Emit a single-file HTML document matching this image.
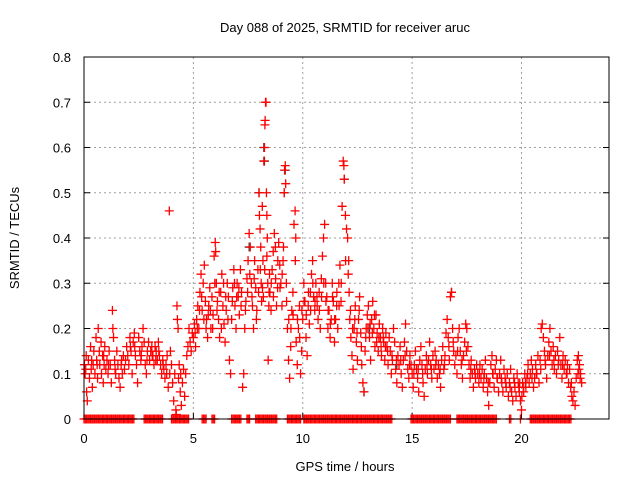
<!DOCTYPE html>
<html><head><meta charset="utf-8">
<style>
body{margin:0;background:#fff;}
svg{display:block;font-family:"Liberation Sans",sans-serif;}
</style></head>
<body>
<svg id="chart" width="640" height="480" viewBox="0 0 640 480" xmlns="http://www.w3.org/2000/svg">
<rect x="0" y="0" width="640" height="480" fill="#fff"/>
<text x="345" y="32" font-size="13" text-anchor="middle" fill="#000">Day 088 of 2025, SRMTID for receiver aruc</text>
<text x="0" y="0" font-size="13" text-anchor="middle" transform="translate(19,238) rotate(-90)" fill="#000">SRMTID / TECUs</text>
<text x="345" y="471" font-size="13" text-anchor="middle" fill="#000">GPS time / hours</text>
<g id="grid"></g>
<g id="ticks"></g>
<g id="grayPts"></g>
<g id="redPts"></g>
<g id="zeroPts"></g>
<rect x="84" y="57" width="525" height="362" fill="none" stroke="#000" stroke-width="1"/>
</svg>
<script>
const xTicks=[0,5,10,15,20];
const yTicks=[0,0.1,0.2,0.3,0.4,0.5,0.6,0.7,0.8];
const yTickLabels=["0","0.1","0.2","0.3","0.4","0.5","0.6","0.7","0.8"];
const grayPoints=[[8.0,.5],[8.22,.6],[8.25,.57],[9.2,.55],[9.15,.5],[11.9,.53],[12.8,.06],[16.8,.28],[7.55,.38],[13.05,.2],[14.3,.12]];
const redPoints=[
[0.02,.12],[0.05,.1],[0.1,.14],[0.12,.06],[0.15,.04],[0.2,.13],[0.25,.09],[0.3,.16],[0.33,.11],[0.38,.07],[0.42,.12],[0.45,.15],[0.5,.1],[0.55,.18],[0.58,.13],[0.62,.09],[0.65,.2],[0.7,.15],[0.72,.12],[0.78,.17],[0.8,.1],[0.85,.14],[0.88,.08],[0.92,.12],[0.95,.16],
[1.0,.11],[1.05,.13],[1.1,.1],[1.15,.15],[1.2,.12],[1.25,.08],[1.3,.24],[1.32,.2],[1.35,.18],[1.4,.13],[1.45,.1],[1.5,.15],[1.55,.12],[1.6,.09],[1.65,.07],[1.7,.12],[1.75,.1],[1.8,.14],[1.85,.11],[1.9,.13],[1.95,.16],
[2.0,.14],[2.05,.12],[2.1,.18],[2.15,.15],[2.2,.1],[2.25,.17],[2.3,.19],[2.35,.14],[2.4,.12],[2.45,.08],[2.5,.18],[2.55,.15],[2.6,.13],[2.65,.16],[2.7,.2],[2.75,.17],[2.8,.12],[2.85,.1],[2.9,.15],[2.95,.17],
[3.0,.13],[3.05,.15],[3.1,.16],[3.15,.14],[3.2,.12],[3.25,.16],[3.3,.15],[3.35,.13],[3.4,.17],[3.45,.14],[3.5,.12],[3.55,.1],[3.6,.13],[3.65,.11],[3.7,.09],[3.75,.12],[3.8,.14],[3.85,.07],[3.9,.46],[3.92,.1],[3.95,.15],
[4.0,.12],[4.05,.08],[4.1,.04],[4.15,.1],[4.2,.02],[4.22,.01],[4.25,.25],[4.27,.22],[4.3,.2],[4.32,.09],[4.35,.12],[4.4,.06],[4.42,.1],[4.45,.03],[4.5,.08],[4.55,.11],[4.6,.05],[4.65,.1],[4.7,.14],[4.75,.16],[4.8,.2],[4.85,.17],[4.9,.15],[4.95,.19],
[5.0,.18],[5.05,.21],[5.1,.16],[5.15,.22],[5.2,.25],[5.25,.2],[5.3,.28],[5.35,.32],[5.4,.24],[5.45,.3],[5.5,.34],[5.55,.26],[5.6,.22],[5.65,.18],[5.7,.25],[5.75,.29],[5.8,.2],[5.85,.27],[5.9,.23],[5.95,.36],[6.0,.39],[6.02,.37],
[6.05,.3],[6.1,.26],[6.15,.22],[6.2,.18],[6.25,.28],[6.3,.32],[6.35,.25],[6.4,.21],[6.45,.17],[6.5,.24],[6.55,.3],[6.6,.27],[6.65,.13],[6.7,.1],[6.75,.22],[6.8,.29],[6.85,.33],[6.9,.25],[6.95,.2],
[7.0,.3],[7.05,.27],[7.1,.23],[7.15,.33],[7.2,.28],[7.25,.07],[7.3,.1],[7.35,.2],[7.4,.26],[7.45,.31],[7.5,.35],[7.55,.41],[7.6,.38],[7.65,.3],[7.7,.25],[7.75,.2],[7.8,.35],[7.85,.29],[7.9,.24],[7.95,.33],
[8.0,.5],[8.02,.45],[8.05,.42],[8.08,.38],[8.1,.3],[8.12,.26],[8.15,.47],[8.18,.35],[8.2,.27],[8.22,.57],[8.25,.6],[8.27,.65],[8.28,.66],[8.3,.7],[8.32,.7],[8.34,.5],[8.36,.45],[8.38,.4],[8.4,.3],[8.42,.13],[8.45,.25],[8.48,.32],
[8.5,.28],[8.55,.24],[8.6,.33],[8.65,.37],[8.7,.41],[8.75,.38],[8.8,.25],[8.85,.29],[8.9,.39],[8.95,.34],
[9.0,.3],[9.05,.25],[9.1,.35],[9.15,.5],[9.17,.55],[9.2,.56],[9.22,.52],[9.25,.3],[9.3,.2],[9.35,.13],[9.4,.09],[9.45,.16],[9.5,.24],[9.55,.28],[9.6,.43],[9.65,.46],[9.68,.4],[9.7,.17],[9.75,.12],[9.8,.2],[9.85,.25],[9.9,.1],[9.95,.15],
[10.0,.22],[10.05,.3],[10.1,.26],[10.15,.18],[10.2,.14],[10.25,.25],[10.3,.21],[10.35,.28],[10.4,.32],[10.45,.35],[10.5,.27],[10.55,.24],[10.6,.3],[10.65,.27],[10.7,.22],[10.75,.28],[10.8,.2],[10.85,.31],[10.9,.36],[10.95,.4],
[11.0,.43],[11.05,.3],[11.1,.27],[11.15,.2],[11.2,.24],[11.25,.18],[11.3,.22],[11.35,.3],[11.4,.26],[11.45,.17],[11.5,.22],[11.55,.25],[11.6,.2],[11.65,.3],[11.7,.34],[11.75,.26],[11.8,.47],[11.85,.57],[11.88,.56],[11.9,.53],[11.95,.45],[12.0,.42],
[12.05,.4],[12.1,.35],[12.12,.28],[12.15,.22],[12.2,.18],[12.25,.14],[12.3,.11],[12.35,.2],[12.4,.25],[12.45,.17],[12.5,.13],[12.55,.22],[12.6,.27],[12.65,.19],[12.7,.12],[12.75,.08],[12.8,.06],[12.85,.15],[12.9,.2],[12.95,.23],
[13.0,.25],[13.05,.18],[13.1,.13],[13.15,.22],[13.2,.26],[13.25,.2],[13.3,.16],[13.35,.23],[13.4,.19],[13.45,.15],[13.5,.21],[13.55,.18],[13.6,.14],[13.65,.2],[13.7,.17],[13.75,.13],[13.8,.19],[13.85,.16],[13.9,.12],[13.95,.18],
[14.0,.15],[14.05,.1],[14.1,.13],[14.15,.2],[14.2,.17],[14.25,.11],[14.3,.08],[14.35,.14],[14.4,.12],[14.45,.16],[14.5,.1],[14.55,.07],[14.6,.13],[14.65,.17],[14.7,.21],[14.75,.15],[14.8,.11],[14.85,.09],[14.9,.14],[14.95,.12],
[15.0,.1],[15.05,.07],[15.1,.12],[15.15,.15],[15.2,.11],[15.25,.09],[15.3,.06],[15.35,.13],[15.4,.16],[15.45,.12],[15.5,.08],[15.55,.05],[15.6,.11],[15.65,.14],[15.7,.1],[15.75,.13],[15.8,.17],[15.85,.12],[15.9,.09],[15.95,.14],
[16.0,.11],[16.05,.15],[16.1,.13],[16.15,.09],[16.2,.12],[16.25,.1],[16.3,.07],[16.35,.13],[16.4,.16],[16.45,.11],[16.5,.14],[16.55,.19],[16.6,.22],[16.65,.18],[16.7,.13],[16.75,.27],[16.8,.28],[16.85,.2],[16.9,.15],[16.95,.12],
[17.0,.14],[17.05,.1],[17.1,.18],[17.15,.2],[17.2,.15],[17.25,.12],[17.3,.09],[17.35,.14],[17.4,.17],[17.45,.21],[17.5,.2],[17.55,.16],[17.6,.12],[17.65,.09],[17.7,.13],[17.75,.1],[17.8,.07],[17.85,.11],[17.9,.09],[17.95,.12],
[18.0,.1],[18.05,.08],[18.1,.12],[18.15,.09],[18.2,.11],[18.25,.07],[18.3,.1],[18.35,.13],[18.4,.09],[18.45,.06],[18.5,.03],[18.55,.08],[18.6,.12],[18.65,.14],[18.7,.1],[18.75,.07],[18.8,.11],[18.85,.13],[18.9,.09],[18.95,.06],
[19.0,.1],[19.05,.13],[19.1,.08],[19.15,.06],[19.2,.11],[19.25,.09],[19.3,.07],[19.35,.1],[19.4,.05],[19.45,.08],[19.5,.11],[19.55,.06],[19.6,.04],[19.65,.09],[19.7,.07],[19.75,.05],[19.8,.1],[19.85,.08],[19.9,.06],[19.95,.04],
[20.0,.02],[20.02,.05],[20.05,.08],[20.1,.06],[20.15,.1],[20.2,.07],[20.25,.09],[20.3,.12],[20.35,.08],[20.4,.1],[20.45,.13],[20.5,.11],[20.55,.07],[20.6,.09],[20.65,.12],[20.7,.1],[20.75,.14],[20.8,.08],[20.85,.13],[20.9,.2],[20.95,.21],
[21.0,.18],[21.05,.15],[21.1,.12],[21.15,.09],[21.2,.14],[21.25,.17],[21.3,.2],[21.35,.15],[21.4,.12],[21.45,.16],[21.5,.11],[21.55,.14],[21.6,.1],[21.65,.15],[21.7,.13],[21.75,.18],[21.8,.12],[21.85,.09],[21.9,.14],[21.95,.11],
[22.0,.13],[22.05,.1],[22.1,.12],[22.15,.08],[22.2,.11],[22.25,.07],[22.3,.05],[22.35,.04],[22.4,.06],[22.45,.03],[22.5,.09],[22.55,.13],[22.6,.14],[22.62,.11],[22.65,.12],[22.7,.1],[22.75,.08]
];
const redPointsExtra=[
[0.08,.11],[0.35,.13],[0.6,.12],[0.9,.14],[1.12,.12],[1.42,.11],[1.72,.13],[2.12,.16],[2.32,.16],[2.62,.14],[2.88,.13],[3.12,.14],[3.28,.13],[3.42,.15],[3.62,.12],[3.78,.1],
[5.08,.19],[5.18,.2],[5.28,.24],[5.38,.27],[5.48,.22],[5.58,.2],[5.68,.23],[5.78,.24],[5.88,.2],[5.98,.3],
[6.08,.24],[6.18,.28],[6.28,.2],[6.38,.3],[6.48,.27],[6.58,.22],[6.78,.26],[6.88,.3],[6.98,.27],
[7.08,.29],[7.18,.25],[7.38,.24],[7.48,.28],[7.58,.32],[7.68,.27],[7.78,.31],[7.88,.22],[7.98,.28],
[8.06,.33],[8.16,.29],[8.26,.33],[8.36,.36],[8.46,.28],[8.56,.3],[8.66,.27],[8.76,.31],[8.86,.35],[8.96,.29],
[9.06,.32],[9.12,.38],[9.26,.26],[9.36,.22],[9.46,.2],[9.56,.23],[9.66,.35],[9.76,.22],[9.86,.18],[9.96,.24],
[10.06,.26],[10.16,.23],[10.26,.28],[10.36,.24],[10.46,.3],[10.56,.26],[10.66,.25],[10.76,.24],[10.86,.27],[10.96,.3],
[11.06,.26],[11.16,.24],[11.26,.21],[11.36,.27],[11.46,.22],[11.56,.28],[11.66,.25],[11.76,.3],[11.96,.35],[12.08,.32],
[12.18,.24],[12.28,.2],[12.38,.22],[12.48,.19],[12.58,.24],[12.68,.16],[12.88,.18],[12.98,.2],
[13.08,.21],[13.18,.19],[13.28,.23],[13.38,.17],[13.48,.18],[13.58,.16],[13.68,.18],[13.78,.16],[13.88,.15],
[14.08,.14],[14.28,.13],[14.48,.13],[14.68,.14],[14.88,.12],[15.08,.1],[15.28,.11],[15.48,.1],[15.68,.12],[15.88,.11],
[16.08,.12],[16.28,.11],[16.48,.12],[16.68,.16],[16.88,.17],[17.08,.15],[17.28,.13],[17.48,.15],[17.68,.11],[17.88,.1],
[18.08,.1],[18.28,.09],[18.48,.08],[18.68,.1],[18.88,.09],[19.08,.09],[19.28,.08],[19.48,.07],[19.68,.08],[19.88,.07],
[19.92,.08],[20.08,.07],[20.18,.08],[20.28,.1],[20.48,.09],[20.68,.1],[20.88,.11],[21.08,.13],[21.28,.14],[21.48,.13],[21.68,.12],[21.88,.12],[22.08,.1],[22.28,.08],[22.58,.1],[22.68,.09]
];
const zeroRanges=[[0,2.3],[2.75,3.6],[4.0,4.8],[5.4,5.6],[5.85,6.0],[6.75,7.2],[7.45,7.6],[7.85,8.85],[9.3,9.9],[10.05,14.1],[14.95,16.8],[17.05,18.85],[19.45,19.55],[19.95,20.0],[20.4,22.3]];

const NS="http://www.w3.org/2000/svg";
const L=84,R=609,T=57,B=419;
function xs(h){return L+(h/24)*(R-L);}
function ys(v){return B-(v/0.8)*(B-T);}
function mk(tag,attrs,parent){const e=document.createElementNS(NS,tag);for(const k in attrs)e.setAttribute(k,attrs[k]);parent.appendChild(e);return e;}
const grid=document.getElementById('grid'),ticks=document.getElementById('ticks');
yTicks.forEach((v,i)=>{
  const y=ys(v);
  if(v>0&&v<0.8){const g=mk('line',{x1:L,x2:R,y1:y,y2:y,stroke:'#a0a0a0','stroke-dasharray':'2,3','stroke-width':1},grid);
  
  }
  const t=mk('line',{x1:L,x2:L+6,y1:y,y2:y,stroke:'#000'},ticks);
  
  
  const t2=mk('line',{x1:R-6,x2:R,y1:y,y2:y,stroke:'#000'},ticks);
  
  
  const lab=mk('text',{x:L-13,y:y+5,'font-size':13,'text-anchor':'end',fill:'#000'},ticks);
  lab.textContent=yTickLabels[i];
  
  
});
xTicks.forEach(h=>{
  const x=xs(h);
  if(h>0){const g=mk('line',{x1:x,x2:x,y1:T,y2:B,stroke:'#a0a0a0','stroke-dasharray':'2,3','stroke-width':1},grid);
  
  }
  const t=mk('line',{x1:x,x2:x,y1:B-6,y2:B,stroke:'#000'},ticks);
  
  
  const lab=mk('text',{x:x,y:B+24,'font-size':13,'text-anchor':'middle',fill:'#000'},ticks);
  lab.textContent=String(h);
  
  
});
function plus(parent,h,v,color){
  const x=xs(h),y=ys(v);
  const p=mk('path',{d:`M${x-4.5} ${y}H${x+4.5}M${x} ${y-4.5}V${y+4.5}`,stroke:color,'stroke-width':1.3,fill:'none'},parent);
  return p;
}
const gp=document.getElementById('grayPts');
grayPoints.forEach(d=>{const p=plus(gp,d[0],d[1],'#404040');
  
  });
const rp=document.getElementById('redPts');
redPoints.forEach(d=>{const p=plus(rp,d[0],d[1],'#ff0000');
  
  });
redPointsExtra.forEach(d=>{const p=plus(rp,d[0],d[1],'#ff0000');
  
  });
const zp=document.getElementById('zeroPts');
zeroRanges.forEach(r=>{
  for(let h=r[0];h<=r[1]+1e-9;h+=0.06){
    const p=plus(zp,h,0,'#ff0000');
    
    
  }
});
</script>
</body></html>
